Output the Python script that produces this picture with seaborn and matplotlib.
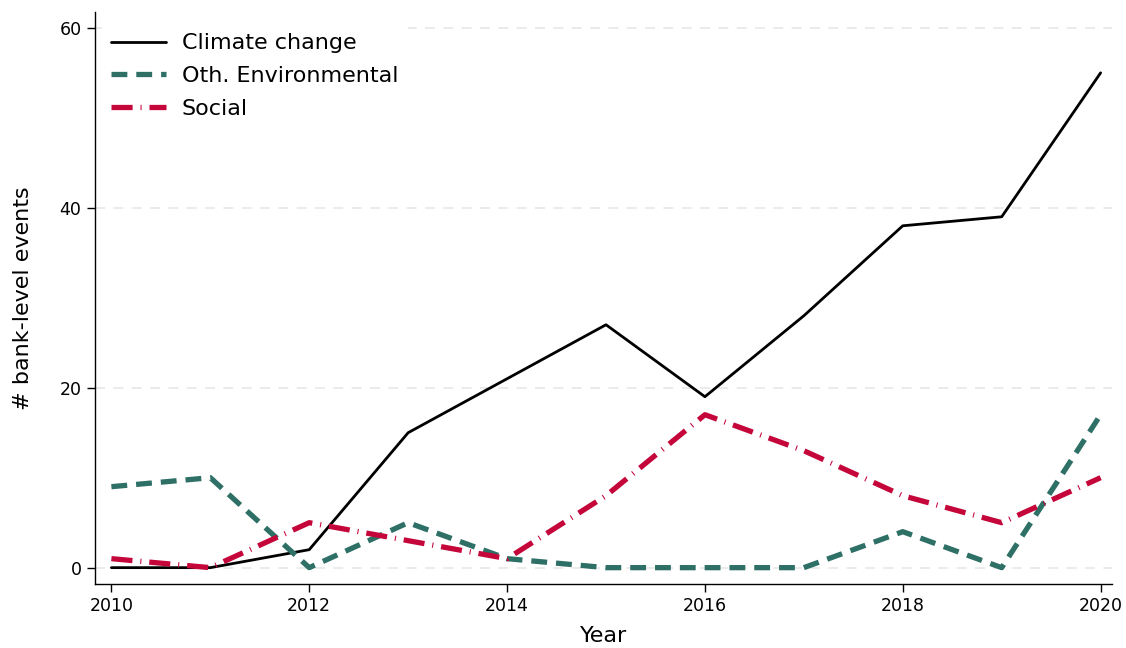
import matplotlib
matplotlib.use('Agg')
import pandas as pd
import matplotlib.pyplot as plt
import seaborn as sns

# Données
years = [2010, 2011, 2012, 2013, 2014, 2015, 2016, 2017, 2018, 2019, 2020]
climate = [0, 0, 2, 15, 21, 27, 19, 28, 38, 39, 55]
oth_env = [9, 10, 0, 5, 1, 0, 0, 0, 4, 0, 17]
social = [1, 0, 5, 3, 1, 8, 17, 13, 8, 5, 10]

df = pd.DataFrame({'year': years, 'Climate change': climate,
                   'Oth. Environmental': oth_env, 'Social': social})

sns.set_style('white')
plt.rcParams['font.family'] = ['DejaVu Sans']
plt.rcParams['text.color'] = 'black'
plt.rcParams['axes.labelcolor'] = 'black'
plt.rcParams['xtick.color'] = 'black'
plt.rcParams['ytick.color'] = 'black'

fig, ax = plt.subplots(figsize=(11.26, 6.48), dpi=100)

sns.lineplot(data=df, x='year', y='Climate change', ax=ax, color='black',
             lw=2.0, label='Climate change')
sns.lineplot(data=df, x='year', y='Oth. Environmental', ax=ax, color='#2e6f66',
             lw=3.8, label='Oth. Environmental')
ax.lines[-1].set_dashes((3, 1.7))
sns.lineplot(data=df, x='year', y='Social', ax=ax, color='#c4063a',
             lw=3.8, label='Social')
ax.lines[-1].set_dashes((4, 1.5, 0.2, 1.5))

for v in [0, 20, 40, 60]:
    ax.axhline(v, color='#e8e8e8', lw=1.2, ls=(0, (6, 5)), zorder=0)

ax.set_xlim(2009.83, 2020.12)
ax.set_ylim(-1.8, 61.8)
ax.set_xticks([2010, 2012, 2014, 2016, 2018, 2020])
ax.set_yticks([0, 20, 40, 60])
ax.tick_params(axis='both', direction='out', length=6, width=1, labelsize=12.5,
               bottom=True, left=True)
ax.set_xlabel('Year', fontsize=16, labelpad=8)
ax.set_ylabel('# bank-level events', fontsize=16, labelpad=19)
for s in ['top', 'right']:
    ax.spines[s].set_visible(False)
for s in ['left', 'bottom']:
    ax.spines[s].set_color('black')
    ax.spines[s].set_linewidth(1)

leg = ax.legend(loc='upper left', bbox_to_anchor=(-0.004, 0.997), fontsize=16,
                frameon=True, framealpha=1, edgecolor='white', handlelength=2.5,
                labelspacing=0.58, handletextpad=0.7)

plt.subplots_adjust(left=0.084, right=0.988, top=0.982, bottom=0.099)
plt.savefig('out.png')
